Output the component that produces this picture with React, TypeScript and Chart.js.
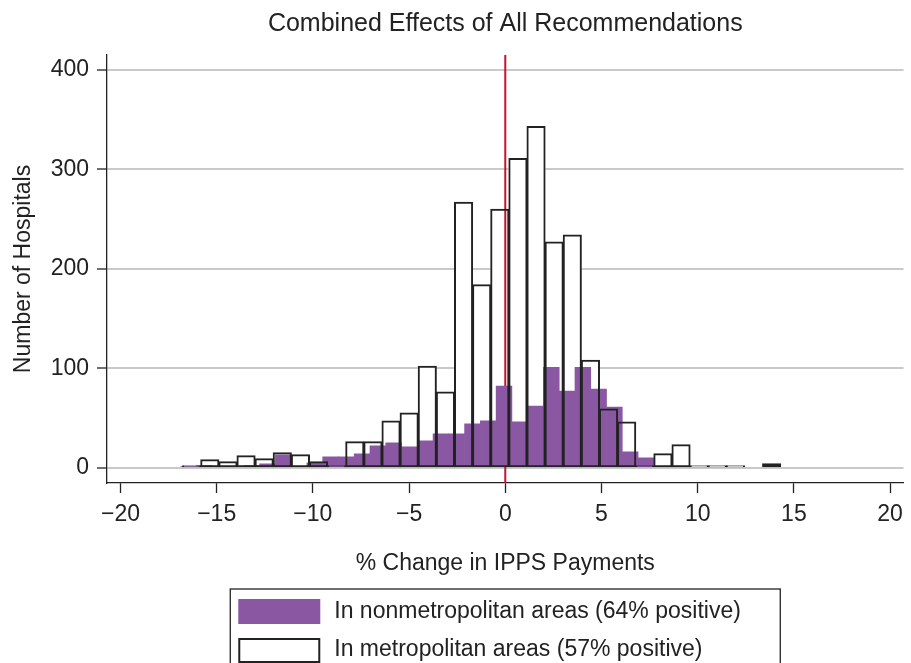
import React, { useEffect, useRef } from "react";
import { Chart, registerables } from "chart.js";

Chart.register(...registerables);

// ---- data ----
const metroBinStart = -16.77;
const metroBinWidth = 0.942;
const metroCounts = [2, 8, 6, 12, 9, 15, 13, 6, 2, 26, 26, 47, 55, 102, 76, 267, 184, 260, 311, 343, 227, 234, 108, 59, 46, 2, 14, 23, 2, 1, 1, 0, 4];

const nonmetroBinStart = -16.865;
const nonmetroBinWidth = 0.8195;
const nonmetroCounts = [1, 2, 0, 1, 2, 4, 13, 0, 5, 11, 11, 14, 22, 25, 21, 27, 34, 34, 44, 47, 82, 46, 62, 101, 77, 101, 79, 61, 16, 10];

const xTicks = [-20, -15, -10, -5, 0, 5, 10, 15, 20];
const yTicks = [0, 100, 200, 300, 400];
const referenceValue = 0;

const titleText = "Combined Effects of All Recommendations";
const xTitle = "% Change in IPPS Payments";
const yTitle = "Number of Hospitals";
const nonmetroLabel = "In nonmetropolitan areas (64% positive)";
const metroLabel = "In metropolitan areas (57% positive)";

const FONT = "'Liberation Sans', Arial, Helvetica, sans-serif";
const PURPLE = "#8a58a2";
const INK = "#222222";

const refLinePlugin = {
  id: "refLine",
  beforeDatasetDraw(chart: any, args: any) {
    if (args.index !== 1) return;
    const { ctx, chartArea } = chart;
    const x = chart.scales.x.getPixelForValue(referenceValue);
    ctx.save();
    ctx.strokeStyle = "#c4122f";
    ctx.lineWidth = 2;
    ctx.beginPath();
    ctx.moveTo(x, chartArea.top);
    ctx.lineTo(x, chartArea.bottom);
    ctx.stroke();
    ctx.restore();
  },
};

const boxLegendPlugin = {
  id: "boxLegend",
  afterDraw(chart: any) {
    const { ctx, chartArea } = chart;
    const cx = (chartArea.left + chartArea.right) / 2;
    const boxW = 550;
    const left = cx - boxW / 2;
    const top = chartArea.bottom + 106;
    ctx.save();
    ctx.strokeStyle = INK;
    ctx.lineWidth = 1.3;
    ctx.strokeRect(left, top, boxW, 120);
    const sx = left + 8;
    const sw = 82;
    const sh = 25;
    ctx.fillStyle = PURPLE;
    ctx.fillRect(sx, top + 10, sw, sh);
    ctx.fillStyle = "#ffffff";
    ctx.fillRect(sx, top + 49, sw, sh);
    ctx.strokeStyle = INK;
    ctx.lineWidth = 2;
    ctx.strokeRect(sx + 1, top + 50, sw - 2, sh - 2);
    ctx.fillStyle = INK;
    ctx.font = `23px ${FONT}`;
    ctx.textAlign = "left";
    ctx.textBaseline = "middle";
    const labels = chart.data.datasets.filter((d: any) => d.legendLabel).map((d: any) => d.legendLabel);
    ctx.fillText(labels[0], sx + sw + 14, top + 23);
    ctx.fillText(labels[1], sx + sw + 14, top + 61);
    ctx.restore();
  },
};

export default function App() {
  const canvasRef = useRef<HTMLCanvasElement | null>(null);

  useEffect(() => {
    const canvas = canvasRef.current;
    if (!canvas) return;
    // empty bins draw nothing
    const metroPoints = metroCounts.map((c, i) => ({ x: metroBinStart + metroBinWidth * (i + 0.5), y: c === 0 ? null : c }));
    const nonmetroPoints = nonmetroCounts.map((c, i) => ({ x: nonmetroBinStart + nonmetroBinWidth * (i + 0.5), y: c === 0 ? null : c }));

    const chart = new Chart(canvas, {
      type: "bar",
      data: {
        datasets: [
          {
            label: metroLabel + " fill",
            data: metroPoints,
            xAxisID: "x",
            backgroundColor: "#ffffff",
            borderWidth: 0,
            grouped: false,
            barPercentage: 1,
            categoryPercentage: 1,
            order: 3,
          } as any,
          {
            label: nonmetroLabel,
            legendLabel: nonmetroLabel,
            data: nonmetroPoints,
            xAxisID: "x2",
            backgroundColor: PURPLE,
            borderWidth: 0,
            grouped: false,
            barPercentage: 1,
            categoryPercentage: 1,
            order: 2,
          } as any,
          {
            label: metroLabel,
            legendLabel: metroLabel,
            data: metroPoints,
            xAxisID: "x",
            backgroundColor: "rgba(0,0,0,0)",
            borderColor: INK,
            borderWidth: 1,
            borderSkipped: false,
            inflateAmount: 0.5,
            minBarLength: 2,
            grouped: false,
            barPercentage: 1,
            categoryPercentage: 1,
            order: 1,
          } as any,
        ],
      },
      options: {
        responsive: false,
        animation: false,
        devicePixelRatio: 1,
        layout: { padding: { left: 0, right: 4, top: 0, bottom: 0 } },
        plugins: {
          legend: { display: false },
          tooltip: { enabled: false },
          title: {
            display: true,
            text: titleText,
            fullSize: false,
            color: INK,
            font: { family: FONT, size: 25, weight: "normal" },
            padding: { top: 9, bottom: 16 },
          },
        },
        scales: {
          x: {
            type: "linear",
            position: "bottom",
            min: -20.7,
            max: 20.7,
            offset: false,
            afterBuildTicks: (s: any) => {
              s.ticks = xTicks.map((v) => ({ value: v }));
            },
            afterFit: (s: any) => {
              s.height = 180;
            },
            grid: {
              offset: false,
              drawOnChartArea: false,
              drawTicks: true,
              tickLength: 10,
              tickColor: INK,
              tickWidth: 1.3,
            },
            border: { display: true, color: INK, width: 1.3 },
            ticks: {
              autoSkip: false,
              maxRotation: 0,
              padding: 8,
              color: INK,
              font: { family: FONT, size: 23 },
              callback: (v: any) => String(v).replace("-", "\u2212"),
            },
            title: {
              display: true,
              text: xTitle,
              color: INK,
              font: { family: FONT, size: 23 },
              padding: { top: 0, bottom: 86 },
            },
          },
          x2: {
            type: "linear",
            display: false,
            min: -20.7,
            max: 20.7,
            offset: false,
            grid: { offset: false },
          },
          y: {
            type: "linear",
            min: -15.4,
            max: 415,
            afterBuildTicks: (s: any) => {
              s.ticks = yTicks.map((v) => ({ value: v }));
            },
            afterFit: (s: any) => {
              s.width = 107;
            },
            grid: {
              color: "#c9c9c9",
              lineWidth: 2,
              drawTicks: true,
              tickLength: 10,
              tickColor: INK,
              tickWidth: 1.3,
            },
            border: { display: true, color: INK, width: 1.3 },
            ticks: {
              padding: 8,
              color: INK,
              font: { family: FONT, size: 23 },
            },
            title: {
              display: true,
              text: yTitle,
              color: INK,
              font: { family: FONT, size: 23 },
              padding: { top: 10, bottom: 0 },
            },
          },
        },
      } as any,
      plugins: [refLinePlugin, boxLegendPlugin],
    });
    return () => chart.destroy();
  }, []);

  return (
    <div style={{ position: "fixed", left: 0, top: 0, width: 911, height: 663, background: "#fff" }}>
      <canvas ref={canvasRef} width={911} height={663} style={{ width: 911, height: 663, display: "block" }} />
    </div>
  );
}
